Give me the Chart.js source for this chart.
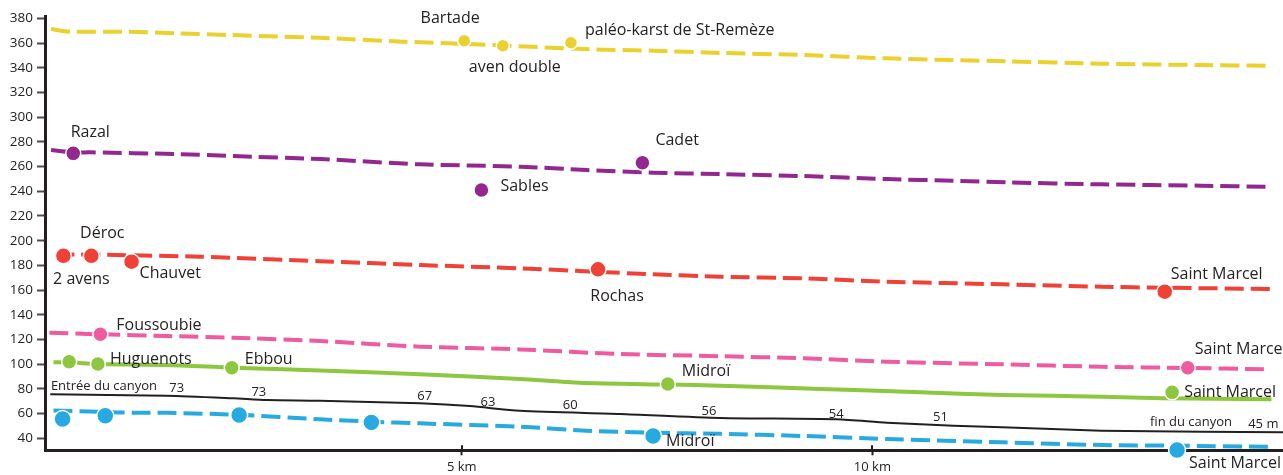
<!DOCTYPE html>
<html>
<head>
<meta charset="utf-8">
<script src="https://cdn.jsdelivr.net/npm/chart.js@4.4.1/dist/chart.umd.min.js"></script>
<style>
  html, body { margin: 0; padding: 0; background: #fff; }
  #wrap { width: 1283px; height: 475px; }
</style>
</head>
<body>
<div id="wrap"><canvas id="c" width="1283" height="475"></canvas></div>
<script>
// ---------- DATA (distance in km, altitude in m) ----------
const Y_TICKS = [40, 60, 80, 100, 120, 140, 160, 180, 200, 220, 240, 260, 280, 300, 320, 340, 360, 380];
const X_TICKS = [5, 10];
const X_TICK_UNIT = 'km';

// Yellow level
const yellowKm  = [0, 0.23, 0.88, 1.53, 2.18, 2.83, 3.27, 4.29, 5.22, 6.48, 7.33, 8.15, 9.16, 10.18, 10.99, 11.65, 12.79, 14.01, 14.81];
const yellowAlt = [371.3, 369.2, 369.2, 367.9, 366.5, 365.1, 364.3, 361.1, 358.9, 355.1, 353.8, 352.0, 350.3, 347.6, 346.2, 345.2, 343.3, 342.2, 341.6];
const yellowSiteKm   = [5.03, 5.50, 6.33];
const yellowSiteAlt  = [361.9, 357.8, 360.2];
const yellowSiteName = ['Bartade', 'aven double', 'paléo-karst de St-Remèze'];

// Purple level
const purpleKm  = [0, 0.27, 0.48, 1.53, 2.22, 3.28, 4.49, 5.71, 6.52, 7.33, 8.15, 9.16, 10.18, 10.99, 11.65, 12.79, 14.01, 14.81];
const purpleAlt = [273.4, 271.5, 271.5, 270.1, 268.5, 266.1, 261.8, 259.9, 257.2, 255.0, 253.9, 252.3, 249.9, 248.5, 247.2, 245.6, 244.5, 243.7];
const purpleSiteKm   = [0.27, 5.24, 7.20];
const purpleSiteAlt  = [270.7, 241.0, 263.1];
const purpleSiteName = ['Razal', 'Sables', 'Cadet'];

// Red level
const redKm  = [0.05, 0.31, 0.79, 1.81, 3.27, 4.49, 5.71, 6.66, 7.33, 8.15, 9.16, 10.18, 11.58, 12.79, 13.56, 14.87];
const redAlt = [188.5, 188.9, 188.4, 187.0, 183.4, 180.3, 177.6, 174.8, 172.8, 170.8, 169.5, 166.8, 164.7, 162.7, 161.9, 160.9];
const redSiteKm   = [0.15, 0.49, 0.98, 6.66, 13.56];
const redSiteAlt  = [187.8, 187.8, 183.0, 176.8, 158.7];
const redSiteName = ['2 avens', 'Déroc', 'Chauvet', 'Rochas', 'Saint Marcel'];

// Pink level
const pinkKm  = [-0.02, 0.60, 1.41, 2.22, 3.27, 4.49, 5.71, 6.93, 8.15, 9.16, 10.18, 11.58, 12.79, 13.84, 14.78];
const pinkAlt = [125.5, 124.2, 122.8, 121.4, 118.8, 114.2, 112.0, 108.2, 106.5, 104.8, 102.0, 99.9, 97.9, 97.0, 95.9];
const pinkSiteKm   = [0.60, 13.84];
const pinkSiteAlt  = [124.2, 97.2];
const pinkSiteName = ['Foussoubie', 'Saint Marcel'];

// Green level
const greenKm  = [0.03, 0.22, 0.57, 1.41, 2.20, 3.27, 4.49, 5.71, 6.44, 7.51, 8.15, 9.37, 10.58, 11.58, 12.79, 13.52, 14.86];
const greenAlt = [101.5, 101.5, 100.1, 99.3, 97.2, 94.9, 91.8, 88.0, 85.0, 83.5, 82.6, 80.0, 77.3, 75.1, 73.7, 72.4, 71.6];
const greenSiteKm   = [0.22, 0.57, 2.20, 7.51, 13.65];
const greenSiteAlt  = [102.0, 100.1, 97.2, 84.0, 77.2];
const greenSiteName = ['', 'Huguenots', 'Ebbou', 'Midroï', 'Saint Marcel'];

// River (black)
const riverKm  = [-0.01, 1.41, 2.22, 2.63, 3.27, 4.49, 5.10, 5.71, 6.93, 8.15, 9.57, 10.18, 10.99, 11.58, 12.79, 14.01, 15.0];
const riverAlt = [75.6, 74.5, 72.4, 71.0, 70.4, 68.3, 66.1, 62.3, 59.7, 56.5, 55.4, 52.6, 50.2, 48.9, 46.2, 45.3, 44.9];
const riverNotes = ['Entrée du canyon', '73', '73', '67', '63', '60', '56', '54', '51', 'fin du canyon', '45 m'];

// Blue level
const blueKm  = [0.03, 0.66, 1.0, 1.41, 2.29, 3.27, 3.90, 4.49, 5.71, 6.52, 7.33, 8.15, 9.16, 10.18, 11.58, 12.79, 13.71, 14.82];
const blueAlt = [62.5, 61.3, 60.7, 60.7, 59.0, 55.4, 53.5, 52.1, 49.4, 46.2, 44.5, 43.6, 41.9, 39.4, 36.8, 34.6, 34.0, 33.2];
const blueSiteKm   = [0.14, 0.66, 2.29, 3.90, 7.33, 13.71];
const blueSiteAlt  = [55.6, 58.3, 58.9, 52.9, 41.9, 30.5];
const blueSiteName = ['', '', '', '', 'Midroï', 'Saint Marcel'];

// ---------- LAYOUT / STYLE (label placement in px relative to marker) ----------
const yellowLabelPos = [[-14, -22, 'center'], [12, 22, 'center'], [14, -12, 'left']];
const purpleLabelPos = [[17, -21, 'center'], [19, -4, 'left'], [13, -22, 'left']];
const redLabelPos    = [[18, 24, 'center'], [11, -22, 'center'], [8, 12, 'left'], [19, 27, 'center'], [6, -17, 'left']];
const pinkLabelPos   = [[16, -9, 'left'], [7, -18, 'left']];
const greenLabelPos  = [null, [12, -5, 'left'], [13, -8, 'left'], [14, -13, 'left'], [12, 0, 'left']];
const blueLabelPos   = [null, null, null, null, [13, 5, 'left'], [12, 13, 'left']];
// river notes placed in chart units (km, m)
const riverNoteAt = [[0.644, 82.3], [1.53, 80.7], [2.53, 77.4], [4.55, 74.2], [5.32, 69.4], [6.32, 66.6],
                     [8.01, 62.1], [9.56, 59.7], [10.83, 56.8], [13.88, 53.2], [14.76, 51.6]];

const FONT = '"Open Sans", "Liberation Sans", sans-serif';
const TEXT = '#262223';
const C = {
  yellow: '#EAD12E', purple: '#92278F', red: '#EF4136', pink: '#EE5BA1',
  green: '#8DC63F', blue: '#27AAE1', river: '#231F20'
};

const zip = (xs, ys) => xs.map((x, i) => ({ x, y: ys[i] }));

function profile(xs, ys, color, dashed, width) {
  return {
    type: 'line', data: zip(xs, ys), borderColor: color, borderWidth: width,
    borderDash: dashed ? [19, 7] : [], borderCapStyle: 'butt', pointRadius: 0,
    pointHoverRadius: 0, tension: 0.25, fill: false, order: 2, clip: false
  };
}
function sites(xs, ys, names, pos, color, r) {
  return {
    type: 'scatter', data: zip(xs, ys), backgroundColor: color, borderColor: '#ffffff',
    pointRadius: r, pointBorderWidth: 1.5, pointHoverRadius: r, order: 1, clip: false,
    siteNames: names, labelPos: pos
  };
}

const datasets = [
  profile(yellowKm, yellowAlt, C.yellow, true, 4),
  profile(purpleKm, purpleAlt, C.purple, true, 4),
  profile(redKm, redAlt, C.red, true, 4),
  profile(pinkKm, pinkAlt, C.pink, true, 4),
  profile(greenKm, greenAlt, C.green, false, 4),
  profile(riverKm, riverAlt, C.river, false, 2),
  profile(blueKm, blueAlt, C.blue, true, 4),
  sites(yellowSiteKm, yellowSiteAlt, yellowSiteName, yellowLabelPos, C.yellow, 6.5),
  sites(purpleSiteKm, purpleSiteAlt, purpleSiteName, purpleLabelPos, C.purple, 7.5),
  sites(redSiteKm, redSiteAlt, redSiteName, redLabelPos, C.red, 8),
  sites(pinkSiteKm, pinkSiteAlt, pinkSiteName, pinkLabelPos, C.pink, 7.5),
  sites(greenSiteKm, greenSiteAlt, greenSiteName, greenLabelPos, C.green, 7.5),
  sites(blueSiteKm, blueSiteAlt, blueSiteName, blueLabelPos, C.blue, 8.5)
];

const labelPlugin = {
  id: 'siteLabels',
  afterDatasetsDraw(chart) {
    const ctx = chart.ctx;
    ctx.save();
    ctx.fillStyle = TEXT;
    ctx.textBaseline = 'middle';
    ctx.font = '16px ' + FONT;
    chart.data.datasets.forEach((ds, i) => {
      if (!ds.siteNames) return;
      const meta = chart.getDatasetMeta(i);
      meta.data.forEach((el, j) => {
        const name = ds.siteNames[j];
        const p = ds.labelPos[j];
        if (!name || !p) return;
        ctx.textAlign = p[2];
        ctx.fillText(name, el.x + p[0], el.y + p[1]);
      });
    });
    const xs = chart.scales.x, ys = chart.scales.y;
    ctx.font = '13px ' + FONT;
    ctx.textAlign = 'center';
    riverNotes.forEach((t, i) => {
      ctx.fillText(t, xs.getPixelForValue(riverNoteAt[i][0]), ys.getPixelForValue(riverNoteAt[i][1]));
    });
    // x ticks crossing the axis (upper half)
    ctx.strokeStyle = '#231F20';
    ctx.lineWidth = 2;
    X_TICKS.forEach(v => {
      const px = Math.round(xs.getPixelForValue(v));
      ctx.beginPath();
      ctx.moveTo(px, chart.chartArea.bottom - 5);
      ctx.lineTo(px, chart.chartArea.bottom);
      ctx.stroke();
    });
    ctx.restore();
  }
};

new Chart(document.getElementById('c'), {
  type: 'scatter',
  data: { datasets },
  options: {
    responsive: false,
    animation: false,
    events: [],
    layout: { autoPadding: false, padding: { top: 16, right: 0, bottom: 0, left: 0 } },
    plugins: { legend: { display: false }, tooltip: { enabled: false } },
    scales: {
      x: {
        type: 'linear', min: -0.074, max: 15.0,
        afterBuildTicks: s => { s.ticks = X_TICKS.map(v => ({ value: v })); },
        afterFit: s => { s.height = 24.7; s.paddingLeft = 0; s.paddingRight = 0; },
        grid: { drawOnChartArea: false, drawTicks: true, tickLength: 5, tickWidth: 2, tickColor: '#231F20' },
        border: { display: true, color: '#231F20', width: 3 },
        ticks: { padding: 4, color: TEXT, font: { family: FONT, size: 13 }, maxRotation: 0,
                 callback: v => v + ' ' + X_TICK_UNIT }
      },
      y: {
        type: 'linear', min: 30.3, max: 381.9,
        afterBuildTicks: s => { s.ticks = Y_TICKS.map(v => ({ value: v })); },
        afterFit: s => { s.width = 45; },
        grid: { drawOnChartArea: false, drawTicks: true, tickLength: 8, tickWidth: 2, tickColor: '#4d4d4d' },
        border: { display: true, color: '#231F20', width: 3 },
        ticks: { padding: 4, color: TEXT, font: { family: FONT, size: 13.5 } }
      }
    }
  },
  plugins: [labelPlugin]
});
</script>
</body>
</html>
